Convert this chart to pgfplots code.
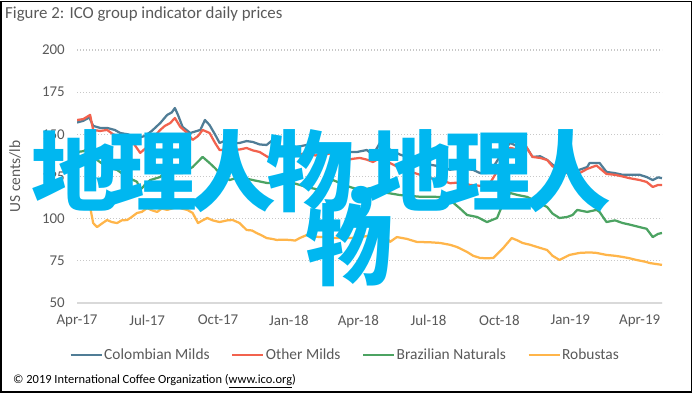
\documentclass[border=0pt]{standalone}
\usepackage{pgfplots}
\pgfplotsset{compat=1.18}
\usepackage{fontspec}
\setmainfont{Carlito}
\newfontfamily\cjk[LetterSpace=-10.5]{Noto Sans CJK SC}
\definecolor{colCM}{RGB}{80,125,150}
\definecolor{colOM}{RGB}{242,98,78}
\definecolor{colBN}{RGB}{76,163,98}
\definecolor{colRB}{RGB}{255,181,74}
\definecolor{ovl}{RGB}{0,183,240}
\definecolor{axisgray}{RGB}{217,217,217}
\definecolor{gridgray}{RGB}{200,200,200}
\definecolor{textgray}{RGB}{89,89,89}
\begin{document}
\begin{tikzpicture}
\useasboundingbox (0,0) rectangle (695bp,394bp);
\draw[line width=1.5bp] (0.75bp,2bp) rectangle (691.5bp,392.5bp);
\node[anchor=west, inner sep=0pt, text=textgray, font=\fontsize{16.9}{19}\selectfont] at (5bp,380bp) {Figure 2: ICO group indicator daily prices};
\node[anchor=west, inner sep=0pt, font=\fontsize{12.5}{14}\selectfont] at (13bp,13bp) {© 2019 International Coffee Organization (\underline{www.ico.org})};
\begin{axis}[
  at={(77bp,91bp)}, anchor=south west,
  scale only axis, width=585bp, height=253bp,
  xmin=0, xmax=759, ymin=50, ymax=200,
  ytick={50,75,100,125,150,175,200},
  xtick={0,91,183,275,365,456,548,640,730},
  xticklabels={Apr-17,Jul-17,Oct-17,Jan-18,Apr-18,Jul-18,Oct-18,Jan-19,Apr-19},
  major tick length=0pt,
  axis x line=bottom, axis y line=left,
  axis line style={-},
  x axis line style={draw=axisgray, line width=1.5bp},
  y axis line style={draw=none},
  ymajorgrids,
  major grid style={draw=gridgray, line width=1.1bp, dash pattern=on 1.1bp off 1.9bp},
  tick label style={font=\fontsize{15}{17}\selectfont, text=textgray},
  yticklabel style={anchor=east, inner sep=0pt, xshift=-12bp},
  xticklabel style={anchor=north, inner sep=0pt, yshift=-12bp},
  /pgf/number format/assume math mode=true,
  ylabel={US cents/lb},
  every axis y label/.style={at={(axis description cs:-0.106,0.5)}, anchor=center, rotate=90, font=\fontsize{15.5}{17}\selectfont, text=textgray},
  legend style={at={(0.458,-0.2055)}, anchor=center, draw=none, fill=none, font=\fontsize{15.5}{17}\selectfont, text=textgray, nodes={inner sep=1.5bp}, /tikz/every even column/.append style={column sep=20bp}},
  legend columns=4,
  legend image code/.code={\draw[#1, line width=2.25bp] (0bp,0bp) -- (31bp,0bp);},
  every axis plot/.append style={line width=2.25bp, line join=round},
]
\addplot[colCM] coordinates {(0,157) (8,158) (16,160) (21,155) (30,153.8) (39,153.8) (49,152.6) (56,150.8) (66,150) (78,147.8) (88,149) (97,152) (108,156.7) (117,161.5) (123,163) (127,165.6) (131,161.5) (137,154.4) (147,150.8) (160,152.6) (166,158.5) (172,155.5) (179,150) (185,144.9) (195,146.7) (202,144.5) (211,144.9) (220,146) (228,145.5) (237,144) (246,143.7) (254,146.7) (263,142.5) (276,143) (285,142.5) (298,143.7) (309,142) (319,141.9) (331,143) (341,141.9) (354,139.5) (363,139.5) (376,140.7) (384,137.8) (393,144.9) (406,141) (419,138) (432,136) (445,134) (458,132) (471,131) (484,129) (497,130) (514,128.9) (523,127) (532,127.1) (542,132) (553,140) (562,144.9) (571,143) (578,145.5) (585,141) (591,136.6) (601,137) (610,134.8) (617,132) (626,128.9) (636,130) (643,127.1) (652,129) (662,130.6) (665,133) (674,133) (678,133) (687,127.7) (698,127) (708,126) (717,126) (730,126) (739,124.7) (747,122.9) (754,124.5) (759,124)};
\addlegendentry{Colombian Milds}
\addplot[colOM] coordinates {(0,158.5) (8,159) (17,161.5) (21,152.6) (30,152) (39,152.6) (47,150) (56,148.4) (65,146) (73,144.9) (82,139) (91,142.5) (99,148) (108,152.6) (114,155) (121,156.7) (127,159.7) (134,154.4) (143,150.8) (150,146.7) (157,149) (163,152.6) (172,150.8) (179,145) (185,140.7) (195,141) (202,140.7) (211,141) (220,141.9) (228,140.5) (237,139.5) (246,137) (254,134.8) (263,139) (272,137) (280,136.6) (289,138) (298,139) (309,137.5) (319,137.8) (332,139) (341,136) (350,134.8) (358,135.5) (367,136) (376,135) (384,133.6) (393,136) (406,133) (419,130) (432,128) (445,126) (458,124) (471,123) (484,121) (497,121.5) (510,120) (523,119.5) (536,121.2) (545,128) (553,136) (562,142) (571,141) (578,146.7) (585,141) (591,136.6) (601,136) (610,134.8) (617,131) (626,128.9) (636,127) (643,127.1) (652,127) (662,129.5) (674,131.5) (687,126.5) (698,126) (708,125) (717,124) (730,122.9) (739,121.8) (747,118.8) (754,120) (759,120)};
\addlegendentry{Other Milds}
\addplot[colBN] coordinates {(0,139.5) (8,140) (17,141.9) (26,134.8) (39,130.6) (52,128.9) (65,124.7) (78,121.8) (82,117) (88,120) (95,122.9) (108,124.7) (117,128.9) (125,127.1) (137,127.1) (150,130.6) (163,136.6) (172,133) (179,130) (185,127.1) (198,122.9) (211,124.7) (228,122.9) (246,121.2) (263,121.2) (280,121.2) (298,118.8) (315,117) (332,122.9) (341,121.2) (354,118.8) (367,117) (380,118) (393,116) (419,114) (445,113) (471,112.9) (484,111.1) (497,106) (506,102.2) (519,101) (532,98) (545,100.4) (553,109.3) (562,115.2) (572,114) (584,112.9) (597,110) (610,106.9) (617,103) (626,100.4) (636,101) (643,102.2) (649,105.2) (662,104) (674,105.2) (678,104) (687,98) (698,99) (708,97.4) (717,96.5) (730,95) (739,94) (747,89.1) (754,91) (759,91.5)};
\addlegendentry{Brazilian Naturals}
\addplot[colRB] coordinates {(0,108.1) (10,108) (17,106.9) (21,97.4) (26,95) (32,97) (39,99.2) (45,98) (52,97.4) (58,99) (65,99.2) (71,101) (78,103.4) (84,104) (91,106.3) (97,105) (104,104) (110,106) (117,105.2) (123,106) (130,106.9) (136,106) (143,105.2) (150,103.4) (157,97.4) (163,99) (169,100.4) (176,99) (185,98) (195,99) (202,99.2) (211,97.4) (220,93.3) (227,93) (233,91.5) (240,90) (246,88.5) (253,88) (259,87.4) (267,87.5) (276,87.4) (283,87) (289,88.5) (298,90.3) (306,89.5) (315,89.1) (324,89) (332,88.5) (341,88.5) (354,88.5) (367,89) (384,90.3) (397,91.5) (406,86.2) (415,89.1) (428,88) (441,86.2) (458,86) (471,85.6) (484,84.5) (493,83.2) (506,80.3) (514,78) (523,76.7) (532,76.5) (540,76.7) (553,82.6) (564,88.5) (572,87) (578,85.6) (588,84.5) (597,83.2) (610,81.4) (617,78) (626,75.5) (639,78.5) (652,79.7) (665,80) (674,79.7) (687,78.5) (698,78) (708,77.3) (717,76.5) (726,75.5) (737,74.5) (743,73.7) (759,72.6)};
\addlegendentry{Robustas}
\end{axis}
\node[anchor=west, inner sep=0pt, text=ovl, font=\cjk\bfseries\fontsize{88}{88}\selectfont] at (31bp,217bp) {地理人物,地理人};
\node[anchor=west, inner sep=0pt, text=ovl, font=\cjk\bfseries\fontsize{88}{88}\selectfont] at (305bp,149bp) {物};
\end{tikzpicture}
\end{document}
